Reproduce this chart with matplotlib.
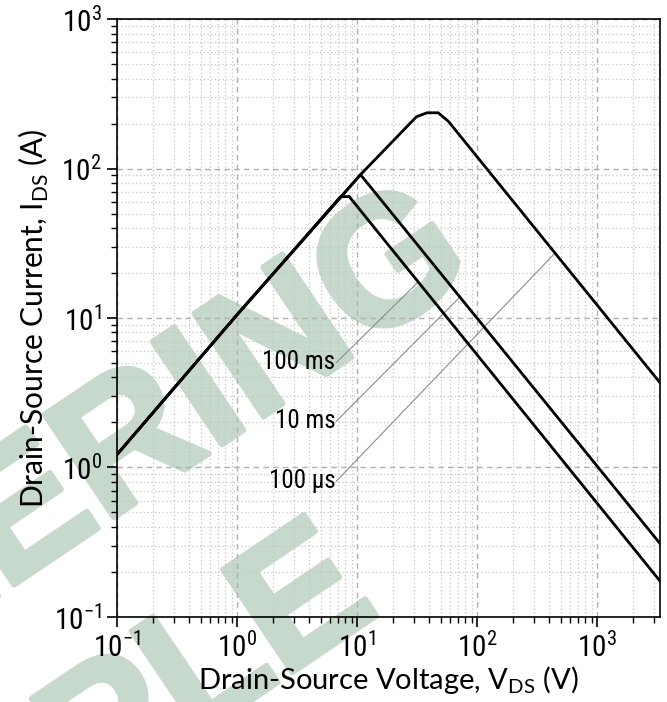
import numpy as np
import matplotlib
matplotlib.use("Agg")
import matplotlib.pyplot as plt
import matplotlib.patheffects as pe
from matplotlib import font_manager
from matplotlib.ticker import LogLocator, NullFormatter

# pick a condensed face for ticks / pulse labels if one is installed
available = {f.name for f in font_manager.fontManager.ttflist}
narrow = "Roboto"
for name in ["Roboto Condensed", "Liberation Sans Narrow"]:
    if name in available:
        narrow = name
        break

plt.rcParams["font.family"] = [narrow, "DejaVu Sans"]
plt.rcParams["mathtext.fontset"] = "custom"
plt.rcParams["mathtext.rm"] = narrow
plt.rcParams["mathtext.sf"] = "Lato"

# SOA boundaries (V, A)
v_100us = [0.1, 1.0, 10.7, 31.3, 38.4, 47.5, 57.7, 3350]
i_100us = [1.22, 10.5, 91, 222, 236, 236, 207, 3.69]

v_10ms = [0.1, 1.0, 10.7, 3350]
i_10ms = [1.22, 10.5, 91, 0.31]

v_100ms = [0.1, 1.0, 7.28, 8.6, 3350]
i_100ms = [1.22, 10.5, 64.7, 65, 0.174]

pulse_labels = ["100 ms", "10 ms", "100 µs"]
label_v = [6.6, 6.6, 6.6]
label_i = [5.04, 2.04, 0.81]
leader_v = [32.4, 72, 447]

curves = [(v_100ms, i_100ms), (v_10ms, i_10ms), (v_100us, i_100us)]

fig = plt.figure(figsize=(6.67, 7.02), dpi=100)
ax = fig.add_axes([0.1754, 0.1211, 0.8141, 0.8518])
ax.set_facecolor("none")

# watermark, behind everything
wm_color = "#c6d9cc"
wm = dict(rotation=34, rotation_mode="anchor", ha="right", va="baseline",
          fontsize=130, fontweight="bold", family="Liberation Sans",
          color=wm_color, zorder=-1,
          path_effects=[pe.withStroke(linewidth=4, foreground=wm_color)])
fig.text(382 / 667, 1 - 612 / 702, "SAMPLE", **wm)
fig.text(478 / 667, 1 - 272 / 702, "ENGINEERING", **wm)

for v, i in curves:
    ax.plot(v, i, color="black", lw=2.0, solid_joinstyle="miter", zorder=3)

for lab, lv, li, ev, (v, i) in zip(pulse_labels, label_v, label_i, leader_v, curves):
    ei = 10 ** np.interp(np.log10(ev), np.log10(v[-2:]), np.log10(i[-2:]))
    ax.plot([lv * 1.02, ev], [li, ei], color="#8c8c8c", lw=0.8, zorder=2)
    ax.text(lv, li, lab, ha="right", va="center", fontsize=18)

ax.set_xscale("log")
ax.set_yscale("log")
ax.set_xlim(0.1, 3350)
ax.set_ylim(0.1, 1000)

ax.xaxis.set_major_locator(LogLocator(base=10, numticks=10))
ax.yaxis.set_major_locator(LogLocator(base=10, numticks=10))
ax.xaxis.set_minor_locator(LogLocator(base=10, subs=np.arange(2, 10), numticks=20))
ax.yaxis.set_minor_locator(LogLocator(base=10, subs=np.arange(2, 10), numticks=20))
ax.xaxis.set_minor_formatter(NullFormatter())
ax.yaxis.set_minor_formatter(NullFormatter())

ax.grid(which="major", ls=(0, (4, 3)), color="#b0b0b0", lw=1.0, zorder=1)
ax.grid(which="minor", ls=(0, (1, 2)), color="#c4c4c4", lw=0.9, zorder=1)

ax.tick_params(which="major", direction="out", length=7, width=1.2, labelsize=21, pad=4)
ax.tick_params(which="minor", direction="out", length=4, width=1.0)
for s in ax.spines.values():
    s.set_linewidth(1.2)

ax.set_xlabel(r"Drain-Source Voltage, V$_\mathdefault{DS}$ (V)", family="Lato", fontsize=21, labelpad=1)
ax.set_ylabel(r"Drain-Source Current, I$_\mathdefault{DS}$ (A)", family="Lato", fontsize=21.5, labelpad=2)

fig.savefig("out.png", dpi=100, facecolor="white")
